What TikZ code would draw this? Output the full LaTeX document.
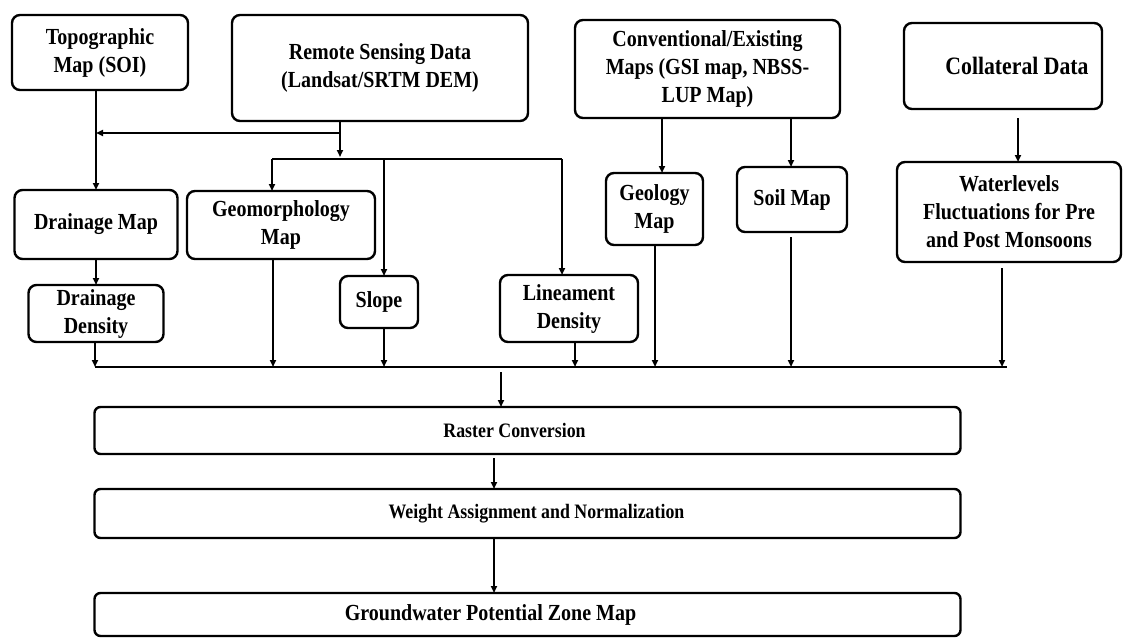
\documentclass[tikz,border=0pt]{standalone}
\usepackage{fontspec}
\setmainfont{Liberation Serif}[FakeStretch=0.87]
\usetikzlibrary{arrows.meta,positioning,calc}

\begin{document}
\begin{tikzpicture}[x=1pt, y=-1pt, >={Triangle[length=7pt,width=6pt]},
  line width=1.7pt, node distance=35pt,
  box/.style={draw, line width=2.4pt, rounded corners=8pt, align=center,
    inner sep=0pt, outer sep=0pt, font=\bfseries\fontsize{23}{28}\selectfont},
  wide/.style={box, rounded corners=6pt, minimum width=866pt, minimum height=47pt}]
\useasboundingbox (0,0) rectangle (1126,637);
  % Define nodes
  \node (topo) [box, minimum width=176pt, minimum height=75pt] at (100,52.5) {Topographic\\Map (SOI)};
  \node (rs) [box, minimum width=296pt, minimum height=106pt] at (380,68) {Remote Sensing Data\\(Landsat/SRTM DEM)};
  \node (conv) [box, minimum width=265pt, minimum height=98pt] at (707.5,69) {Conventional/Existing\\Maps (GSI map, NBSS-\\LUP Map)};
  \node (coll) [box, minimum width=198pt, minimum height=86pt, font=\bfseries\fontsize{25}{30}\selectfont] at (1003,66) {\hspace*{28pt}Collateral Data};
  \node (drain) [box, minimum width=163pt, minimum height=69pt] at (96,224.5) {Drainage Map};
  \node (ddens) [box, minimum width=135pt, minimum height=57pt, below=26pt of drain] {Drainage\\Density};
  \node (geo) [box, minimum width=188pt, minimum height=68pt] at (281,225) {Geomorphology\\Map};
  \node (slope) [box, minimum width=78pt, minimum height=52pt] at (379,302) {Slope};
  \node (lin) [box, minimum width=138pt, minimum height=67pt] at (569,308.5) {Lineament\\Density};
  \node (geol) [box, minimum width=97pt, minimum height=72pt] at (654.5,209) {Geology\\Map};
  \node (soil) [box, minimum width=110pt, minimum height=65pt] at (792,199.5) {Soil Map};
  \node (water) [box, minimum width=224pt, minimum height=100pt] at (1009,212) {Waterlevels\\Fluctuations for Pre\\and Post Monsoons};
  \node (raster) [wide, font=\bfseries\fontsize{20.5}{24}\selectfont] at (527.5,430.5) {Raster Conversion\hspace*{26pt}};
  \node (weight) [wide, minimum height=49pt, font=\bfseries\fontsize{20.5}{24}\selectfont, below=of raster] {\hspace*{18pt}Weight Assignment and Normalization};
  \node (gw) [wide, minimum height=43pt, below=55pt of weight] {Groundwater Potential Zone Map\hspace*{74pt}};

  % Junction points
  \coordinate (fork) at (340,133);
  \coordinate (split) at (340,159);
  \coordinate (b1) at (272,159);
  \coordinate (b2) at (384,159);
  \coordinate (b3) at (562,159);
  \coordinate (c1) at (662,0);
  \coordinate (c2) at (791,0);
  \coordinate (c3) at (1018,0);
  \coordinate (d1) at (95,367);
  \coordinate (d2) at (273,367);
  \coordinate (d3) at (384,367);
  \coordinate (d4) at (575,367);
  \coordinate (d5) at (655,367);
  \coordinate (d6) at (791,367);
  \coordinate (d7) at (1002,367);
  \coordinate (bend) at (1007,367);
  \coordinate (sink) at (501,367);
  \coordinate (e1) at (494,0);

  % Draw arrows
  \draw[->] (topo.south -| drain.north) -- (drain.north);
  \draw[->] (rs.south -| fork) -- ([yshift=2pt]split);
  \draw[->] (fork) -- (fork -| drain.north);
  \draw (b1) -- (b3);
  \draw[->] (b1) -- (b1 |- geo.north);
  \draw[->] (b2) -- (b2 |- slope.north);
  \draw[->] (b3) -- (b3 |- lin.north);
  \draw[->] (conv.south -| c1) -- (geol.north -| c1);
  \draw[->] (conv.south -| c2) -- (soil.north -| c2);
  \draw[->, shorten <=9pt] (coll.south -| c3) -- (water.north -| c3);
  \draw[->] (drain.south) -- (drain.south |- ddens.north);

  \draw (d1) -- (bend);
  \draw[->] (ddens.south -| d1) -- (d1);
  \draw[->] (geo.south -| d2) -- (d2);
  \draw[->] (slope.south -| d3) -- (d3);
  \draw[->] (lin.south -| d4) -- (d4);
  \draw[->] (geol.south -| d5) -- (d5);
  \draw[->, shorten <=5pt] (soil.south -| d6) -- (d6);
  \draw[->, shorten <=6pt] (water.south -| d7) -- (d7);

  \draw[->, shorten <=5pt] (sink) -- (raster.north -| sink);
  \draw[->, shorten <=4pt] (raster.south -| e1) -- (weight.north -| e1);
  \draw[->] (weight.south -| e1) -- (gw.north -| e1);
\end{tikzpicture}
\end{document}
